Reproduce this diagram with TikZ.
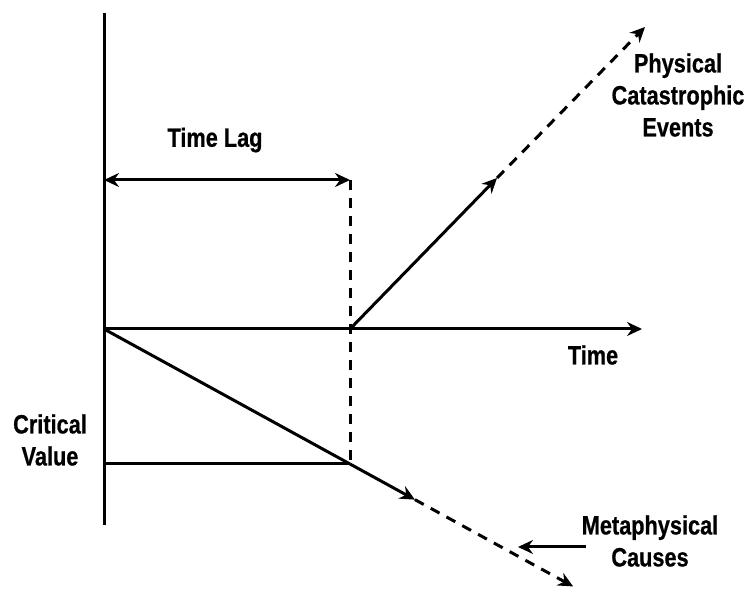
\documentclass[tikz,border=0pt]{standalone}
\usepackage{fontspec}
\newfontfamily\labelfont[FakeStretch=0.82,FakeBold=0.6]{Liberation Sans Bold}
\usetikzlibrary{arrows.meta,calc}

\begin{document}
\begin{tikzpicture}[x=1pt,y=1pt,
  line width=3pt,
  tip/.style={-{Stealth[length=15pt,width=14pt,inset=5pt]}},
  dtip/.style={{Stealth[length=15pt,width=14pt,inset=5pt]}-{Stealth[length=15pt,width=14pt,inset=5pt]}},
  dashline/.style={dash pattern=on 10pt off 8pt},
  lbl/.style={font=\labelfont\fontsize{26.5}{32}\selectfont, align=center, inner sep=0pt}]
\useasboundingbox (0,0) rectangle (751,588);

% key points
\coordinate (top) at (104,575);
\coordinate (bot) at (104,63);
\coordinate (O) at (104,259);
\coordinate (tend) at (642,259);
\coordinate (P) at (350,259);
\coordinate (lagL) at (104,408);
\coordinate (lagR) at (350,408);
\coordinate (C) at (350,124);
\coordinate (crit) at (104,124);
\coordinate (up1) at (497,410);
\coordinate (up2) at (645,561);
\coordinate (dn1) at ($(O)!1.264!(C)$);
\coordinate (dn2) at ($(O)!1.907!(C)$);
\coordinate (mA) at (586,41);
\coordinate (mB) at (518,41);

% axes
\draw (top) -- (bot);
\draw[tip] (O) -- (tend);

% time lag
\draw[dtip] (lagL) -- (lagR);
\draw[dashline] (lagR) -- (C);
\draw (crit) -- (C);

% rising branch
\draw[tip] (P) -- (up1);
\draw[tip,dashline] (up1) -- (up2);

% falling branch
\draw (O) -- (C);
\draw[tip] (C) -- (dn1);
\draw[tip,dashline] (dn1) -- (dn2);

% pointer to the metaphysical causes
\draw[tip] (mA) -- (mB);

% labels
\node[lbl] (lag) at (215,448) {Time Lag};
\node[lbl] (time) at (593,233) {Time};
\node[lbl] (cv) at (50,148) {Critical\\Value};
\node[lbl] (pce) at (678,493) {Physical\\Catastrophic\\Events};
\node[lbl] (mcause) at (650,47) {Metaphysical\\Causes};
\end{tikzpicture}
\end{document}
